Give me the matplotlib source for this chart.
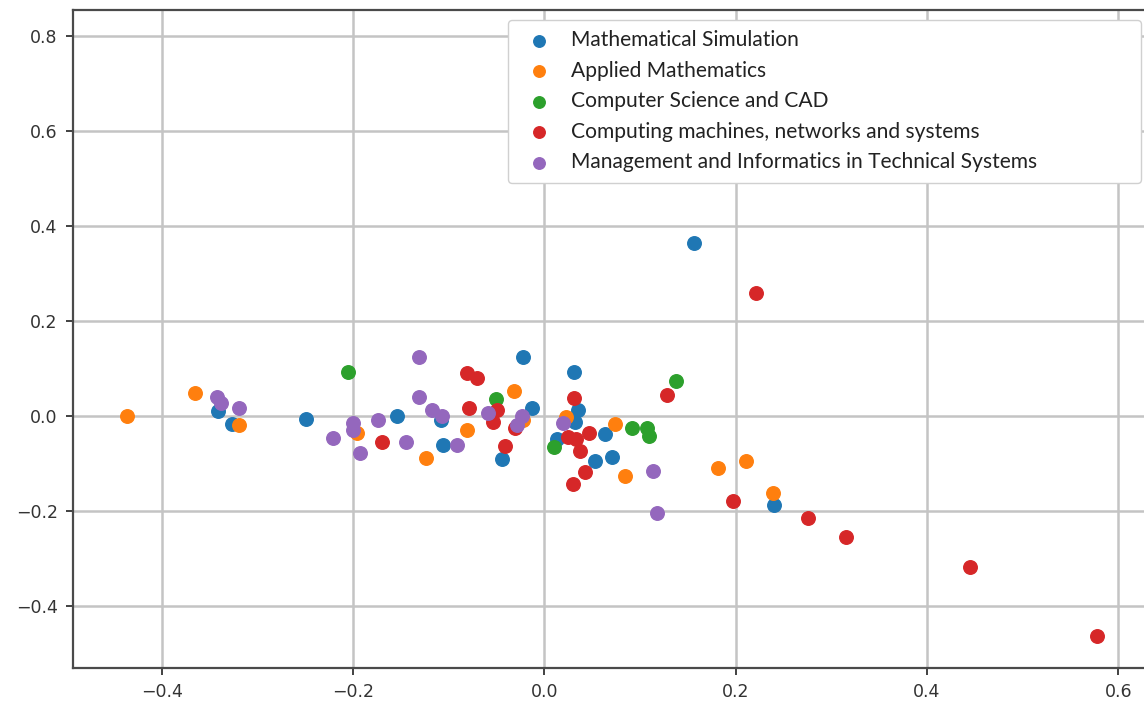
import numpy as np
import matplotlib.pyplot as plt

# group names in legend order
groups = ['Mathematical Simulation',
          'Applied Mathematics',
          'Computer Science and CAD',
          'Computing machines, networks and systems',
          'Management and Informatics in Technical Systems']

math_sim_x = [0.156, -0.0225, 0.031, -0.341, -0.327, -0.2495, -0.154, -0.108, -0.106,
              -0.044, -0.013, 0.035, 0.032, 0.013, 0.063, 0.053, 0.071, 0.240]
math_sim_y = [0.364, 0.124, 0.093, 0.0105, -0.017, -0.006, 0.0, -0.008, -0.061,
              -0.091, 0.016, 0.013, -0.012, -0.048, -0.038, -0.094, -0.086, -0.187]

appl_math_x = [-0.4365, -0.3656, -0.3196, -0.1965, -0.124, -0.081, -0.0316, -0.022,
               0.0225, 0.0737, 0.084, 0.181, 0.211, 0.239]
appl_math_y = [0.0, 0.049, -0.019, -0.036, -0.089, -0.029, 0.0526, -0.008,
               -0.003, -0.0175, -0.126, -0.110, -0.095, -0.161]

cs_cad_x = [-0.205, -0.051, 0.010, 0.1376, 0.0918, 0.107, 0.109]
cs_cad_y = [0.093, 0.035, -0.065, 0.074, -0.0246, -0.026, -0.041]

comp_x = [0.2213, 0.128, 0.1975, 0.2757, 0.3154, 0.445, 0.578, -0.170, -0.081, -0.071,
          -0.0787, -0.050, -0.054, -0.041, -0.031, 0.031, 0.025, 0.033, 0.047, 0.037,
          0.042, 0.030]
comp_y = [0.259, 0.044, -0.179, -0.215, -0.255, -0.318, -0.463, -0.055, 0.090, 0.081,
          0.018, 0.0126, -0.012, -0.063, -0.026, 0.037, -0.044, -0.048, -0.036, -0.074,
          -0.117, -0.144]

mgmt_x = [-0.342, -0.338, -0.3196, -0.221, -0.2006, -0.2006, -0.193, -0.174, -0.145,
          -0.131, -0.131, -0.118, -0.1075, -0.092, -0.059, -0.029, -0.023, 0.019,
          0.113, 0.118]
mgmt_y = [0.041, 0.028, 0.018, -0.046, -0.014, -0.029, -0.077, -0.008, -0.055,
          0.124, 0.041, 0.0126, 0.0, -0.061, 0.007, -0.019, 0.0, -0.014,
          -0.116, -0.205]

xs = [math_sim_x, appl_math_x, cs_cad_x, comp_x, mgmt_x]
ys = [math_sim_y, appl_math_y, cs_cad_y, comp_y, mgmt_y]

W, H = 1144, 702
fig = plt.figure(figsize=(W / 100, H / 100), dpi=100)
ax = fig.add_axes([73 / W, 1 - 668 / H, (1147 - 73) / W, (668 - 10) / H])

for name, x, y in zip(groups, xs, ys):
    ax.scatter(x, y, s=95, label=name, zorder=3)

ax.set_xlim(-0.493, 0.63)
ax.set_ylim(-0.5305, 0.855)
ax.set_xticks([-0.4, -0.2, 0.0, 0.2, 0.4, 0.6])
ax.set_yticks([-0.4, -0.2, 0.0, 0.2, 0.4, 0.6, 0.8])
ax.grid(True, color='#c4c4c4', linewidth=1.8)
ax.set_axisbelow(True)

for sp in ax.spines.values():
    sp.set_color('#4a4a4a')
    sp.set_linewidth(1.6)
ax.tick_params(labelsize=12.5, colors='#333333', length=5, width=1.3, pad=6)

# legend box stretched to the width seen in the reference
leg = ax.legend(loc='upper left',
                bbox_to_anchor=(508 / W, 1 - 178 / H, (1141 - 508) / W, 158 / H),
                bbox_transform=fig.transFigure, borderaxespad=0, mode='expand',
                prop={'family': 'Lato', 'size': 15.1}, labelspacing=0.5,
                handletextpad=0.5, borderpad=0.5,
                scatterpoints=1, markerscale=0.85, framealpha=1,
                edgecolor='#d0d0d0', fancybox=True)
for t in leg.get_texts():
    t.set_color('#222222')

fig.savefig('out.png', dpi=100)
